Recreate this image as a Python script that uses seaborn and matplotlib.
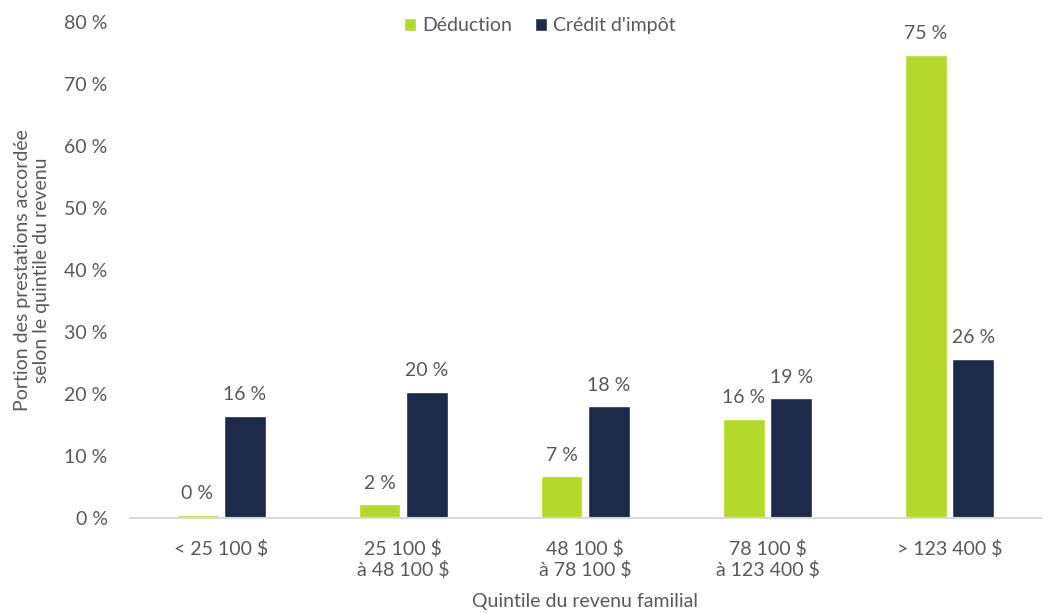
import pandas as pd
import seaborn as sns
import matplotlib.pyplot as plt

# Data
categories = ["< 25 100 $", "25 100 $\nà 48 100 $", "48 100 $\nà 78 100 $",
              "78 100 $\nà 123 400 $", "> 123 400 $"]
deduction = [0.5, 2.2, 6.7, 16.0, 74.7]
credit = [16.5, 20.4, 18.0, 19.3, 25.7]
series = ["Déduction", "Crédit d'impôt"]
colors = ["#B4D92A", "#1C2B4A"]

df = pd.DataFrame({
    "quintile": categories * 2,
    "valeur": deduction + credit,
    "type": [series[0]] * len(categories) + [series[1]] * len(categories),
})

sns.set_style("white")
plt.rcParams['font.family'] = ['Lato', 'DejaVu Sans']
grey = "#595959"
fs = 14

fig, ax = plt.subplots(figsize=(10.48, 6.13), dpi=100)
fig.subplots_adjust(left=0.124, right=0.993, top=0.964, bottom=0.155)

sns.barplot(data=df, x="quintile", y="valeur", hue="type", hue_order=series,
            palette=colors, width=0.52, gap=0.12, ax=ax, saturation=1)

for cont in ax.containers:
    ax.bar_label(cont, labels=[f"{round(v.get_height()):.0f} %" for v in cont],
                 padding=9, fontsize=fs, color=grey)

ax.set_ylim(0, 80)
ax.set_yticks(range(0, 81, 10))
ax.set_yticklabels([f"{t} %" for t in range(0, 81, 10)])
ax.tick_params(axis="both", labelsize=fs, colors=grey, length=0)
ax.tick_params(axis="x", pad=16)
ax.tick_params(axis="y", pad=16)
ax.set_xlabel("Quintile du revenu familial", fontsize=fs, color=grey, labelpad=10)
ax.set_ylabel("Portion des prestations accordée\nselon le quintile du revenu",
              fontsize=fs, color=grey, labelpad=10)

for s in ["top", "right", "left"]:
    ax.spines[s].set_visible(False)
ax.spines["bottom"].set_color("#D9D9D9")
ax.spines["bottom"].set_linewidth(1.5)

ax.legend(loc="upper center", bbox_to_anchor=(0.45, 1.045), ncol=2, frameon=False,
          fontsize=fs, labelcolor=grey, handlelength=0.6, handleheight=0.6,
          handletextpad=0.3, columnspacing=1.2)

plt.savefig("out.png", dpi=100)
